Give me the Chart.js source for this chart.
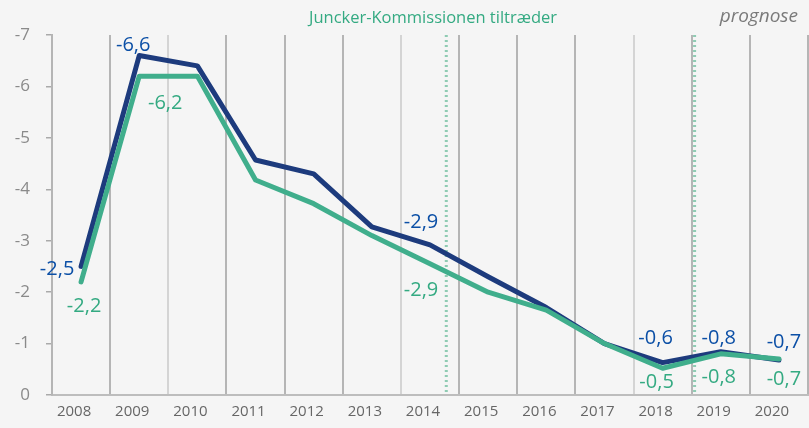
<!DOCTYPE html>
<html>
<head>
<meta charset="utf-8">
<script src="https://cdn.jsdelivr.net/npm/chart.js@4/dist/chart.umd.min.js"></script>
<style>
  html, body { margin: 0; padding: 0; background: #f5f5f5; }
  #wrap { width: 809px; height: 428px; }
</style>
</head>
<body>
<div id="wrap"><canvas id="underskud" width="809" height="428"></canvas></div>
<script>
// Offentligt underskud, % af BNP
const aar = ["2008", "2009", "2010", "2011", "2012", "2013", "2014", "2015", "2016", "2017", "2018", "2019", "2020"];
const blaaSerie = [-2.5, -6.6, -6.4, -4.57, -4.3, -3.27, -2.92, -2.3, -1.7, -1.0, -0.63, -0.84, -0.68];
const groenSerie = [-2.2, -6.2, -6.2, -4.18, -3.72, -3.1, -2.55, -2.0, -1.65, -1.0, -0.52, -0.8, -0.7];
// vaerdier der er skrevet paa grafen (null = ingen etiket)
const blaaEtiketter = [-2.5, -6.6, null, null, null, null, -2.9, null, null, null, -0.6, -0.8, -0.7];
const groenEtiketter = [-2.2, -6.2, null, null, null, null, -2.9, null, null, null, -0.5, -0.8, -0.7];
// lodrette markeringer (brøkdel af aar)
const juncker = 6.28;
const prognoseStart = 10.55;

const BLAA = "#1d3b7d";
const BLAA_TEKST = "#0b4fa6";
const GROEN = "#40ae8c";
const GROEN_TEKST = "#34aa82";

// placering af etiketter i forhold til punktet
const blaaOffset = { 0: [-24, 3], 1: [-6, -10], 6: [-9, -23], 10: [-7, -24], 11: [-2, -14], 12: [5, -18] };
const groenOffset = { 0: [3, 24], 1: [26, 27], 6: [-9, 26], 10: [-6, 14], 11: [-2, 23], 12: [5, 20] };

const komma = v => String(v.toFixed(1)).replace(".", ",");

const baggrund = {
    id: "baggrund",
    beforeDraw(chart) {
        const ctx = chart.ctx;
        ctx.save();
        ctx.fillStyle = "#f5f5f5";
        ctx.fillRect(0, 0, chart.width, chart.height);
        ctx.restore();
    }
};

const markeringer = {
    id: "markeringer",
    beforeDatasetsDraw(chart) {
        const ctx = chart.ctx;
        const x = chart.scales.x;
        const area = chart.chartArea;
        const step = x.getPixelForValue(1) - x.getPixelForValue(0);
        ctx.save();
        ctx.strokeStyle = "#8fcbb3";
        ctx.lineWidth = 3;
        ctx.setLineDash([2, 3]);
        [juncker, prognoseStart].forEach(v => {
            const px = x.getPixelForValue(0) + v * step;
            ctx.beginPath();
            ctx.moveTo(px, area.top);
            ctx.lineTo(px, area.bottom);
            ctx.stroke();
        });
        ctx.setLineDash([]);
        ctx.textBaseline = "middle";
        ctx.textAlign = "center";
        ctx.fillStyle = GROEN_TEKST;
        ctx.font = "16.5px 'Open Sans'";
        ctx.fillText("Juncker-Kommissionen tiltræder", 433, 18);
        ctx.textAlign = "right";
        ctx.fillStyle = "#7a7a7a";
        ctx.font = "italic 19px 'Open Sans'";
        ctx.fillText("prognose", 798, 17);
        ctx.restore();
    }
};

const etiketter = {
    id: "etiketter",
    afterDatasetsDraw(chart) {
        const ctx = chart.ctx;
        ctx.save();
        ctx.font = "20px 'Open Sans'";
        ctx.textAlign = "center";
        ctx.textBaseline = "middle";
        const tegn = (dsIndex, vaerdier, offset, farve) => {
            const meta = chart.getDatasetMeta(dsIndex);
            ctx.fillStyle = farve;
            vaerdier.forEach((v, i) => {
                if (v === null) return;
                const p = meta.data[i];
                const o = offset[i] || [0, -15];
                ctx.fillText(komma(v), p.x + o[0], p.y + o[1]);
            });
        };
        tegn(0, groenEtiketter, groenOffset, GROEN_TEKST);
        tegn(1, blaaEtiketter, blaaOffset, BLAA_TEKST);
        ctx.restore();
    }
};

const lysLinjer = [2, 6, 10];

new Chart(document.getElementById("underskud"), {
    type: "line",
    data: {
        labels: aar,
        datasets: [
            {
                label: "grøn",
                data: groenSerie,
                borderColor: GROEN,
                borderWidth: 5,
                pointRadius: 0,
                tension: 0,
                borderCapStyle: "round",
                borderJoinStyle: "round",
            },
            {
                label: "blå",
                data: blaaSerie,
                borderColor: BLAA,
                borderWidth: 5,
                pointRadius: 0,
                tension: 0,
                borderCapStyle: "round",
                borderJoinStyle: "round",
            },
        ],
    },
    options: {
        responsive: false,
        animation: false,
        layout: { padding: { top: 35, right: 1, left: 0, bottom: 0 } },
        plugins: {
            legend: { display: false },
            tooltip: { enabled: false },
        },
        scales: {
            x: {
                offset: true,
                afterFit: s => { s.height = 33; },
                grid: {
                    offset: true,
                    drawTicks: false,
                    lineWidth: 2,
                    color: ctx => lysLinjer.includes(ctx.index) ? "#d4d4d4" : "#b5b5b5",
                },
                border: { color: "#bdbdbd", width: 2 },
                ticks: {
                    color: "#666",
                    font: { family: "'Open Sans'", size: 15 },
                    padding: 8,
                    labelOffset: -7,
                    maxRotation: 0,
                    autoSkip: false,
                },
            },
            y: {
                reverse: true,
                min: -7,
                max: 0,
                afterFit: s => { s.width = 52; },
                grid: {
                    drawOnChartArea: false,
                    drawTicks: true,
                    tickLength: 6,
                    color: "#aaa",
                    lineWidth: 1.5,
                },
                border: { color: "#b5b5b5", width: 2 },
                ticks: {
                    stepSize: 1,
                    color: "#8a8a8a",
                    padding: 16,
                    font: { family: "'Open Sans'", size: 17 },
                    callback: v => v === 0 ? "0" : String(v),
                },
            },
        },
    },
    plugins: [baggrund, markeringer, etiketter],
});
</script>
</body>
</html>
